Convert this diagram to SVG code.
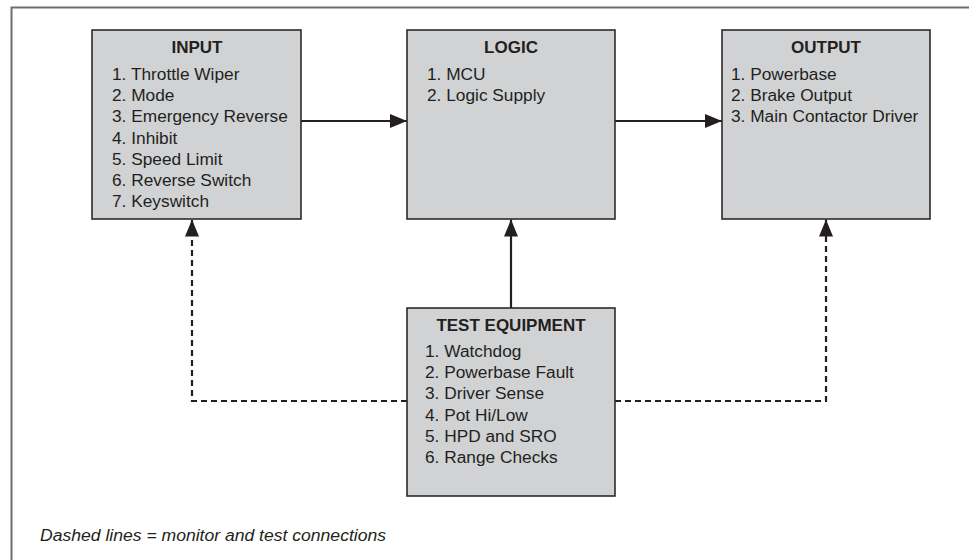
<svg xmlns="http://www.w3.org/2000/svg" width="969" height="560" viewBox="0 0 969 560">
<style>
  .box { fill: #d1d2d4; stroke: #2b2b2b; stroke-width: 1.6; }
  .hdr { font-family: "Liberation Sans", Arial, sans-serif; font-weight: bold; font-size: 17px; fill: #231f20; text-anchor: middle; }
  .item { font-family: "Liberation Sans", Arial, sans-serif; font-size: 17.3px; fill: #231f20; }
  .note { font-family: "Liberation Sans", Arial, sans-serif; font-size: 16px; font-style: italic; fill: #231f20; }
  .solid { fill: none; stroke: #231f20; stroke-width: 2.2; marker-end: url(#arrow); }
  .dashed { fill: none; stroke: #231f20; stroke-width: 2.2; stroke-dasharray: 6 4; marker-end: url(#arrow); }
</style>
<defs>
  <marker id="arrow" markerUnits="userSpaceOnUse" markerWidth="17" markerHeight="14" refX="17" refY="7" orient="auto">
    <path d="M0,0 L17,7 L0,14 z" fill="#231f20"/>
  </marker>
</defs>
<rect width="969" height="560" fill="#ffffff"/>
<path d="M11.5,560 V7.5 H969" fill="none" stroke="#6d6e70" stroke-width="2"/>

<g id="connectors">
  <path class="solid" d="M301,121 H407"/>
  <path class="solid" d="M615,121 H722"/>
  <path class="solid" d="M511,308 V219.5"/>
  <path class="dashed" d="M407,401 H192 V219.5"/>
  <path class="dashed" d="M615,401 H826 V219.5"/>
</g>

<g id="input">
  <rect class="box" x="92" y="30" width="209" height="189"/>
  <text class="hdr" x="197" y="53">INPUT</text>
  <text class="item" x="112" y="80">1. Throttle Wiper</text>
  <text class="item" x="112" y="101.2">2. Mode</text>
  <text class="item" x="112" y="122.4">3. Emergency Reverse</text>
  <text class="item" x="112" y="143.6">4. Inhibit</text>
  <text class="item" x="112" y="164.8">5. Speed Limit</text>
  <text class="item" x="112" y="186">6. Reverse Switch</text>
  <text class="item" x="112" y="207.2">7. Keyswitch</text>
</g>

<g id="logic">
  <rect class="box" x="407" y="30" width="208" height="189"/>
  <text class="hdr" x="511" y="53">LOGIC</text>
  <text class="item" x="427" y="80">1. MCU</text>
  <text class="item" x="427" y="101.2">2. Logic Supply</text>
</g>

<g id="output">
  <rect class="box" x="722" y="30" width="208" height="189"/>
  <text class="hdr" x="826" y="53">OUTPUT</text>
  <text class="item" x="731" y="80">1. Powerbase</text>
  <text class="item" x="731" y="101.2">2. Brake Output</text>
  <text class="item" x="731" y="122.4">3. Main Contactor Driver</text>
</g>

<g id="test-equipment">
  <rect class="box" x="407" y="308" width="208" height="188"/>
  <text class="hdr" x="511" y="331">TEST EQUIPMENT</text>
  <text class="item" x="425" y="357">1. Watchdog</text>
  <text class="item" x="425" y="378.2">2. Powerbase Fault</text>
  <text class="item" x="425" y="399.4">3. Driver Sense</text>
  <text class="item" x="425" y="420.6">4. Pot Hi/Low</text>
  <text class="item" x="425" y="441.8">5. HPD and SRO</text>
  <text class="item" x="425" y="463">6. Range Checks</text>
</g>

<text class="note" x="40" y="541" textLength="346" lengthAdjust="spacingAndGlyphs">Dashed lines = monitor and test connections</text>
</svg>
